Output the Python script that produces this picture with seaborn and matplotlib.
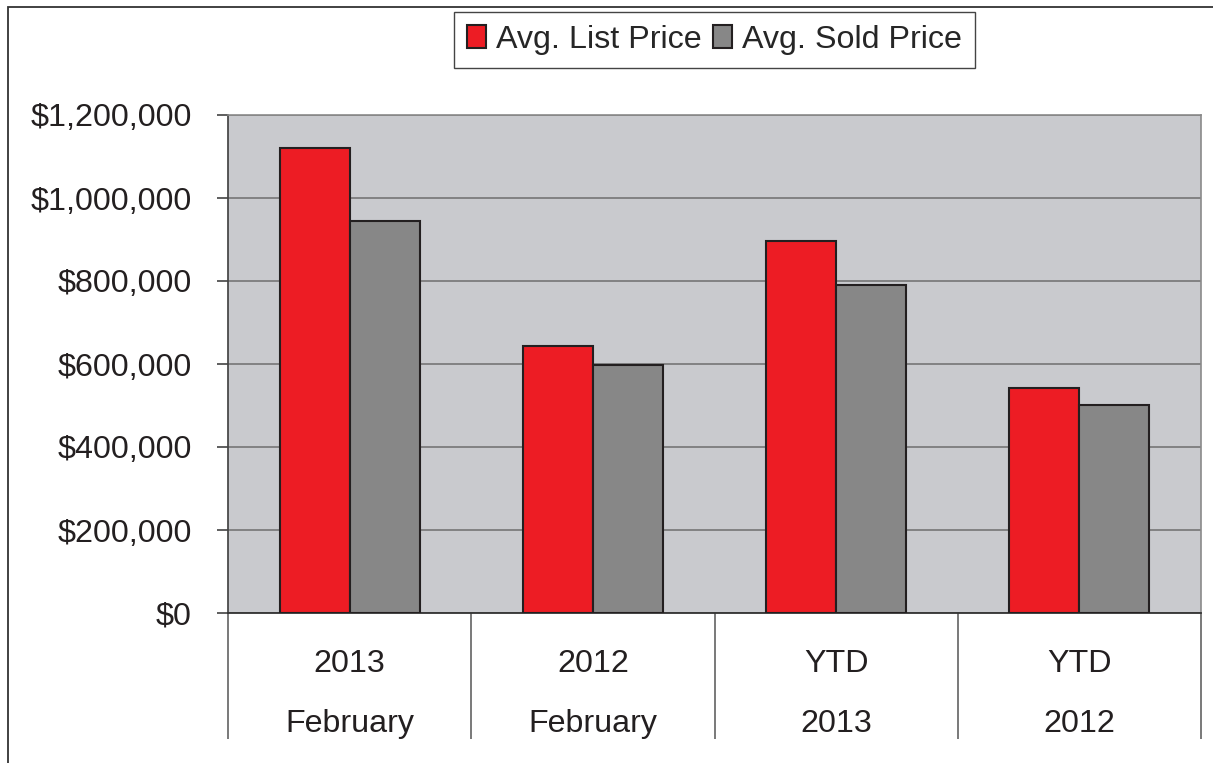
import pandas as pd
import matplotlib
matplotlib.use("Agg")
import matplotlib.pyplot as plt
from matplotlib.patches import Patch, Rectangle
from matplotlib.ticker import FuncFormatter, FixedLocator
import seaborn as sns

periods = ["2013\nFebruary", "2012\nFebruary", "YTD\n2013", "YTD\n2012"]
series_names = ["Avg. List Price", "Avg. Sold Price"]
list_price = [1120000, 643000, 897000, 541000]
sold_price = [945000, 598000, 791000, 502000]
colors = ["#ED1C24", "#878787"]

df = pd.DataFrame({
    "period": periods * 2,
    "series": [series_names[0]] * 4 + [series_names[1]] * 4,
    "price": list_price + sold_price,
})

sns.set_theme(style="white")
plt.rcParams["font.family"] = ["Liberation Sans", "DejaVu Sans"]

fig = plt.figure(figsize=(12.13, 7.63), dpi=100)
ax = fig.add_axes([228 / 1213, 150 / 763, 973 / 1213, 498 / 763])
ax.set_facecolor("#C9CACE")

sns.barplot(
    data=df, x="period", y="price", hue="series", order=periods,
    hue_order=series_names, palette=colors, width=0.575,
    edgecolor="#231F20", linewidth=1.5, saturation=1, ax=ax, zorder=3,
)

ax.set_ylim(0, 1200000)
ax.set_xlim(-0.5, 3.5)
ax.set_yticks(range(0, 1200001, 200000))
ax.yaxis.set_major_formatter(FuncFormatter(lambda v, p: f"${v:,.0f}"))
ax.yaxis.grid(True, color="#6E6E6E", linewidth=1.1, zorder=0)
ax.set_axisbelow(True)
ax.set_xlabel("")
ax.set_ylabel("")

ax.tick_params(axis="y", direction="out", length=8, width=1.1, color="#333333",
               labelsize=23.2, labelcolor="#231F20", pad=18, left=True)
ax.tick_params(axis="x", which="major", length=0, labelsize=23.2,
               labelcolor="#231F20", pad=26)
ax.xaxis.set_minor_locator(FixedLocator([-0.5, 0.5, 1.5, 2.5, 3.5]))
ax.tick_params(axis="x", which="minor", direction="out", length=91,
               width=1.1, color="#555555", bottom=True)
for lbl in ax.get_xticklabels():
    lbl.set_linespacing(2.3)

for side in ["top", "right"]:
    ax.spines[side].set_color("#8A8A8A")
    ax.spines[side].set_linewidth(1.2)
ax.spines["left"].set_color("#444444")
ax.spines["bottom"].set_color("#333333")
ax.spines["bottom"].set_linewidth(1.3)

ax.get_legend().remove()
handles = [Patch(facecolor=c, edgecolor="#231F20", linewidth=1.5) for c in colors]
ax.legend(handles, series_names, loc="upper center", bbox_to_anchor=(0.5, 1.207),
          borderaxespad=0, ncol=2, fontsize=23.2, frameon=True, fancybox=False,
          edgecolor="#444444", handlelength=0.6, handleheight=0.75,
          handletextpad=0.3, columnspacing=0.35, borderpad=0.4, framealpha=1)

fig.patches.append(Rectangle((8 / 1213, -0.1), 1.2, 1.1 - 7 / 763,
                             transform=fig.transFigure, fill=False,
                             edgecolor="#333333", linewidth=1.3, zorder=10))

fig.savefig("out.png", dpi=100)
